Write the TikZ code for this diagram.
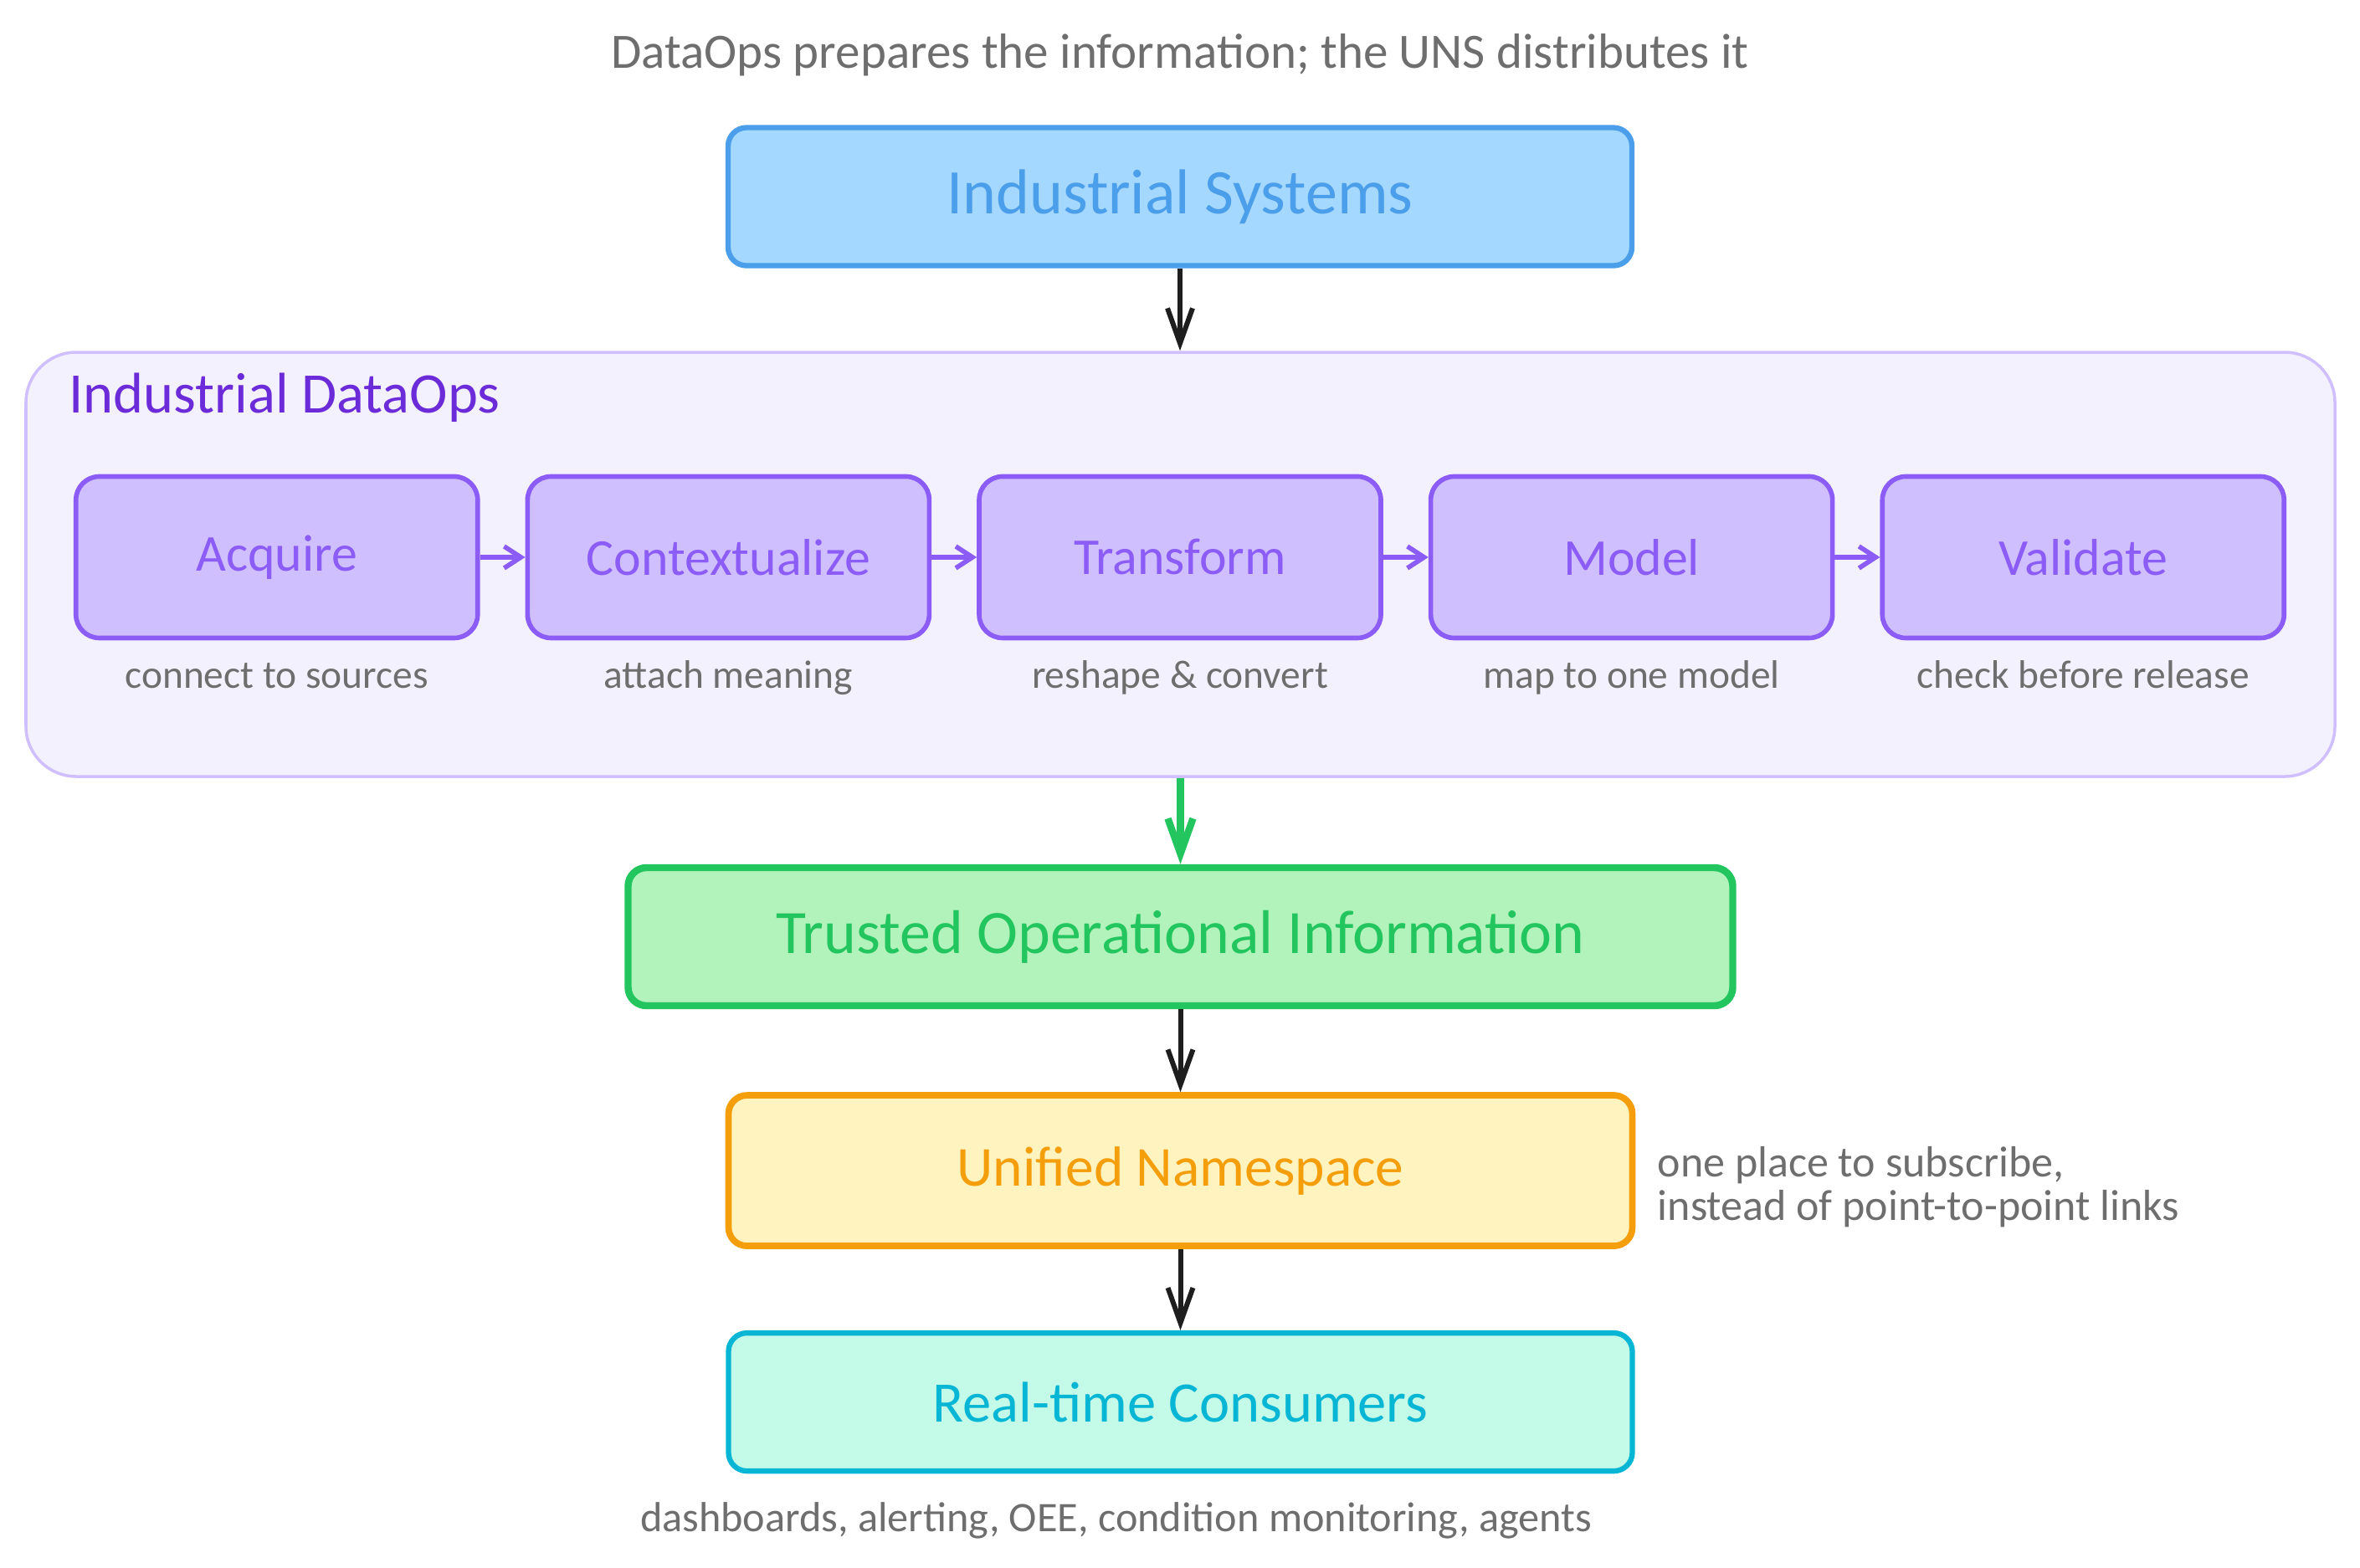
\documentclass[tikz,border=0pt]{standalone}
\usepackage{fontspec}
\setmainfont{Carlito}
\usetikzlibrary{arrows.meta,positioning,calc}

\definecolor{sysline}{HTML}{4A9EEA}
\definecolor{sysfill}{HTML}{A5D8FF}
\definecolor{opsline}{HTML}{D0BFFF}
\definecolor{opsfill}{HTML}{F4F1FE}
\definecolor{opstext}{HTML}{6C2BD9}
\definecolor{stepline}{HTML}{8B5CF6}
\definecolor{stepfill}{HTML}{D0BFFF}
\definecolor{trustline}{HTML}{22C55E}
\definecolor{trustfill}{HTML}{B2F2BB}
\definecolor{unsline}{HTML}{F59E0B}
\definecolor{unsfill}{HTML}{FFF3BF}
\definecolor{consline}{HTML}{06B6D4}
\definecolor{consfill}{HTML}{C3FAE8}
\definecolor{remarkgray}{HTML}{6E6E6E}
\definecolor{arrowblack}{HTML}{1E1E1E}

\begin{document}
\begin{tikzpicture}[
    node distance=0.6cm and 0.54cm,
    tierbox/.style={rectangle, draw, rounded corners=0.22cm, line width=1.8pt, minimum width=10.8cm, minimum height=1.65cm, font=\fontsize{21.6}{25}\selectfont},
    stepbox/.style={rectangle, draw=stepline, fill=stepfill, text=stepline, rounded corners=0.28cm, line width=1.6pt, minimum width=4.8cm, minimum height=1.93cm, font=\fontsize{17.6}{20}\selectfont},
    remark/.style={text=remarkgray, text height=0.7em, text depth=0.25em, font=\fontsize{13.5}{16.5}\selectfont},
    arrow/.style={-{Straight Barb[length=0.42cm,width=0.3cm]}, line width=1.7pt, draw=arrowblack},
    steparrow/.style={-{Straight Barb[length=0.2cm,width=0.26cm]}, line width=1.6pt, draw=stepline}
]
\useasboundingbox (0,0) rectangle (28.2,-18.73);

% Source systems (top)
\node[tierbox, draw=sysline, fill=sysfill, text=sysline] (sys) at (14.10,-2.35) {Industrial Systems};
\node[remark, above=0.47cm of sys, font=\fontsize{16.8}{19}\selectfont] (title) {DataOps prepares the information; the UNS distributes it};

% DataOps container
\node[rectangle, draw=opsline, fill=opsfill, line width=1pt, rounded corners=0.6cm, minimum width=27.59cm, minimum height=5.07cm] (ops) at (14.105,-6.745) {};
\node[anchor=west, text=opstext, font=\fontsize{19.5}{23}\selectfont] (opslabel) at ($(ops.north west)+(0.41,-0.56)$) {Industrial DataOps};

% DataOps steps (left to right)
\node[stepbox, below=2.46cm of sys] (transform) {Transform};
\node[stepbox, left=of transform] (context) {Contextualize};
\node[stepbox, left=of context] (acquire) {Acquire};
\node[stepbox, right=of transform] (model) {Model};
\node[stepbox, right=of model] (validate) {Validate};

\node[remark, below=0.2cm of acquire] (acquirenote) {connect to sources};
\node[remark, below=0.2cm of context] (contextnote) {attach meaning};
\node[remark, below=0.2cm of transform] (transformnote) {reshape \& convert};
\node[remark, below=0.2cm of model] (modelnote) {map to one model};
\node[remark, below=0.2cm of validate] (validatenote) {check before release};

\draw[steparrow] (acquire) -- (context);
\draw[steparrow] (context) -- (transform);
\draw[steparrow] (transform) -- (model);
\draw[steparrow] (model) -- (validate);

% Downstream tiers
\node[tierbox, draw=trustline, fill=trustfill, text=trustline, line width=2.4pt, minimum width=13.2cm, font=\fontsize{21}{25}\selectfont, below=1.03cm of ops] (trusted) {Trusted Operational Information};
\node[tierbox, draw=unsline, fill=unsfill, text=unsline, line width=2.2pt, minimum height=1.8cm, font=\fontsize{19.2}{23}\selectfont, below=0.99cm of trusted] (uns) {Unified Namespace};
\node[tierbox, draw=consline, fill=consfill, text=consline, font=\fontsize{19.5}{23}\selectfont, below=0.97cm of uns] (cons) {Real-time Consumers};

\node[remark, align=left, right=0.14cm of uns, yshift=-0.2cm, text height=, text depth=, font=\fontsize{14.8}{14.8}\selectfont] (unsnote) {one place to subscribe,\\instead of point-to-point links};
\node[remark, below=0.32cm of cons, xshift=-0.77cm, font=\fontsize{14.3}{17}\selectfont] (consnote) {dashboards, alerting, OEE, condition monitoring, agents};

% Arrows between tiers
\draw[arrow] (sys.south) -- (sys.south |- ops.north);
\draw[arrow, draw=trustline, line width=2.4pt] (trusted.north |- ops.south) -- (trusted.north);
\draw[arrow] (trusted) -- (uns);
\draw[arrow] (uns) -- (cons);

\end{tikzpicture}
\end{document}
